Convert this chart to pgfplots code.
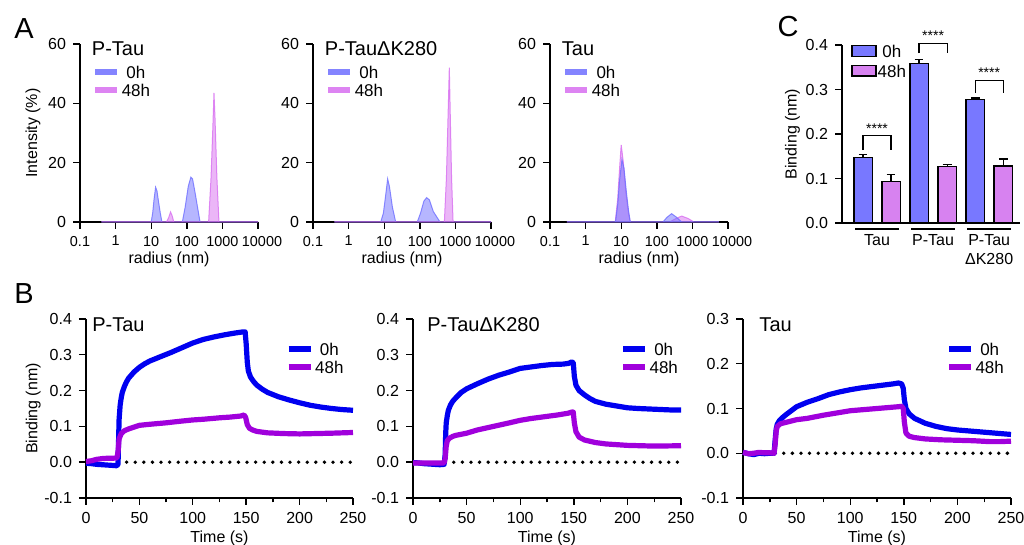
\documentclass[border=0pt]{standalone}
\usepackage{fontspec}
\setmainfont{Liberation Sans}
\usepackage{pgfplots}
\pgfplotsset{compat=1.18}

\definecolor{dlsblue}{RGB}{110,110,255}
\definecolor{dlspink}{RGB}{215,110,240}
\definecolor{barblue}{RGB}{120,120,255}
\definecolor{barpink}{RGB}{215,130,240}
\definecolor{kblue}{RGB}{0,0,240}
\definecolor{kpurp}{RGB}{160,0,220}

\tikzset{ttl/.style={anchor=west, inner sep=0pt, font=\fontsize{10}{10}\selectfont}}

\pgfplotsset{
  prism/.style={
    scale only axis,
    axis lines=left,
    axis line style={-, line width=0.7pt},
    every tick/.style={black, line width=0.7pt},
    tick align=outside,
    major tick length=3.5pt,
    minor tick length=2.2pt,
    tick label style={font=\fontsize{8}{9}\selectfont},
    label style={font=\fontsize{8}{9}\selectfont},
    /pgf/number format/assume math mode=true,
    clip=false,
  },
  thickleg/.style={legend image code/.code={\draw[##1, line width=3.4pt] (0pt,0pt) -- (11pt,0pt);}},
  dls/.style={prism, thickleg, width=89pt, height=89pt,
    xmin=0.1, xmax=10000, xminorticks=false,
    xtick={0.1,1,10,100,1000,10000},
    xticklabels={0.1,1,10,100,1000,\hphantom{0}10000},
    xticklabel style={font=\fontsize{7.2}{8}\selectfont},
    ymin=0, ymax=60, ytick={0,20,40,60},
    xlabel={radius (nm)}, xlabel style={yshift=4pt},
    legend style={at={(0.065,0.885)}, anchor=north west, draw=none, fill=none,
      font=\fontsize{8.5}{9}\selectfont, inner sep=0pt, row sep=1.8pt,
      nodes={inner sep=0.5pt, text height=6.2pt, text depth=0pt}},
  },
  kin/.style={prism, thickleg, width=134pt, height=89.5pt,
    xmin=0, xmax=250, xtick={0,50,...,250}, minor x tick num=1,
    xlabel={Time (s)}, xlabel style={yshift=3pt}, ymin=-0.1,
    legend style={anchor=north west, draw=none, fill=none,
      font=\fontsize{8.5}{9}\selectfont, inner sep=0pt, row sep=1.8pt,
      nodes={inner sep=0.5pt, text height=6.2pt, text depth=0pt},
      /tikz/every even column/.append style={column sep=2pt}},
  },
  fill0/.style={fill=dlsblue, fill opacity=0.5, draw=dlsblue, line width=0.5pt, draw opacity=0.8},
  fill48/.style={fill=dlspink, fill opacity=0.5, draw=dlspink, line width=0.5pt, draw opacity=0.8},
  line0/.style={kblue, line width=2.6pt, line join=round},
  line48/.style={kpurp, line width=2.6pt, line join=round},
  zero/.style={black, line width=1.9pt, line cap=round, dash pattern=on 0pt off 4.3pt},
}

\begin{document}
\begin{tikzpicture}
\useasboundingbox (0pt,0pt) rectangle (512pt,-272.5pt);

% ---------- A: DLS ----------
\begin{semilogxaxis}[dls, at={(40pt,-111pt)}, anchor=south west, ylabel={Intensity (\%)}, ylabel shift=-3pt]
  \addlegendimage{dlsblue, opacity=0.85}
  \addlegendimage{dlspink, opacity=0.85}
  \addplot[fill0, forget plot] coordinates {(0.4,0) (10,0) (11,3) (12,7.5) (13.3,11.7) (14.5,10.5) (16,7) (18,3) (20,0) (75,0) (90,5) (110,12) (130,15.1) (145,14.5) (170,10) (200,5) (235,0) (10000,0)} \closedcycle;
  \addplot[fill48, forget plot] coordinates {(0.4,0) (27,0) (31,1.5) (35,3.4) (39,2) (43,0) (410,0) (480,15) (540,32) (580,43.5) (620,35) (700,15) (800,0) (10000,0)} \closedcycle;
  \node[ttl] at (rel axis cs:0.065,0.975) {P-Tau};
  \legend{0h,48h}
\end{semilogxaxis}

\begin{semilogxaxis}[dls, at={(156.5pt,-111pt)}, anchor=south west]
  \addlegendimage{dlsblue, opacity=0.85}
  \addlegendimage{dlspink, opacity=0.85}
  \addplot[fill0, forget plot] coordinates {(0.4,0) (8,0) (9.5,3) (11,9) (12.5,14.5) (14,12) (17,5) (21,0) (85,0) (105,3) (130,7) (155,8.2) (185,7.5) (240,3.5) (370,0) (10000,0)} \closedcycle;
  \addplot[fill48, forget plot] coordinates {(0.4,0) (490,0) (560,15) (620,35) (675,52) (720,35) (780,15) (860,0) (10000,0)} \closedcycle;
  \node[ttl] at (rel axis cs:0.065,0.975) {P-TauΔK280};
  \legend{0h,48h}
\end{semilogxaxis}

\begin{semilogxaxis}[dls, at={(275pt,-111pt)}, anchor=south west]
  \addlegendimage{dlsblue, opacity=0.85}
  \addlegendimage{dlspink, opacity=0.85}
  \addplot[fill48, forget plot] coordinates {(0.3,0) (6.8,0) (8,8) (9,18) (10,26) (11.5,20) (13.5,10) (16,3) (18,0) (230,0) (350,1.2) (500,2) (750,1.2) (1100,0) (5500,0)} \closedcycle;
  \addplot[fill0, forget plot] coordinates {(0.3,0) (6.9,0) (8,6) (9,14) (10.5,21) (12,18) (14,10) (16,4) (18,0) (150,0) (190,1.5) (260,2.8) (340,1.8) (500,0) (5500,0)} \closedcycle;
  \node[ttl] at (rel axis cs:0.065,0.975) {Tau};
  \legend{0h,48h}
\end{semilogxaxis}

% ---------- C: bars ----------
\begin{axis}[prism, at={(421pt,-111.5pt)}, anchor=south west, width=89pt, height=89pt,
    ybar, bar width=0.65, xmin=0.25, xmax=6.6, xtick=\empty,
    ymin=0, ymax=0.4, ytick={0,0.1,0.2,0.3,0.4},
    yticklabels={0.0,0.1,0.2,0.3,0.4},
    ylabel={Binding (nm)}, ylabel shift=-4pt,
    legend image code/.code={\draw[#1, line width=0.6pt] (0pt,-2.6pt) rectangle (12pt,2.6pt);},
    legend style={at={(0.05,1.01)}, anchor=north west, draw=none, fill=none,
      font=\fontsize{8.5}{9}\selectfont, inner sep=0pt, row sep=2.5pt,
      nodes={inner sep=0.6pt, text height=6.2pt, text depth=0pt}}]
  \addplot[bar shift=0pt, fill=barblue, draw=black, line width=0.6pt,
    error bars/.cd, y dir=plus, y explicit,
    error bar style={black, line width=0.6pt},
    error mark options={rotate=90, mark size=2.2pt, line width=0.6pt}]
    coordinates {(1,0.148) +- (0,0.006) (3,0.358) +- (0,0.010) (5,0.278) +- (0,0.003)};
  \addplot[bar shift=0pt, fill=barpink, draw=black, line width=0.6pt,
    error bars/.cd, y dir=plus, y explicit,
    error bar style={black, line width=0.6pt},
    error mark options={rotate=90, mark size=2.2pt, line width=0.6pt}]
    coordinates {(2,0.094) +- (0,0.015) (4,0.127) +- (0,0.004) (6,0.128) +- (0,0.016)};
  \legend{0h,48h}
  % significance brackets
  \draw[line width=0.6pt] (axis cs:1,0.164) -- (axis cs:1,0.196) -- (axis cs:2,0.196) -- (axis cs:2,0.164);
  \node[anchor=south, inner sep=1pt, font=\fontsize{7}{7}\selectfont] at (axis cs:1.5,0.196) {****};
  \draw[line width=0.6pt] (axis cs:3,0.382) -- (axis cs:3,0.404) -- (axis cs:4,0.404) -- (axis cs:4,0.382);
  \node[anchor=south, inner sep=1pt, font=\fontsize{7}{7}\selectfont] at (axis cs:3.5,0.404) {****};
  \draw[line width=0.6pt] (axis cs:5,0.292) -- (axis cs:5,0.321) -- (axis cs:6,0.321) -- (axis cs:6,0.292);
  \node[anchor=south, inner sep=1pt, font=\fontsize{7}{7}\selectfont] at (axis cs:5.5,0.321) {****};
  % group labels
  \draw[line width=0.6pt] ([yshift=-3pt]axis cs:0.72,0) -- ([yshift=-3pt]axis cs:2.28,0);
  \draw[line width=0.6pt] ([yshift=-3pt]axis cs:2.72,0) -- ([yshift=-3pt]axis cs:4.28,0);
  \draw[line width=0.6pt] ([yshift=-3pt]axis cs:4.72,0) -- ([yshift=-3pt]axis cs:6.28,0);
  \node[anchor=north, inner sep=0pt, font=\fontsize{8}{9.5}\selectfont] at ([yshift=-5.5pt]axis cs:1.5,0) {Tau};
  \node[anchor=north, inner sep=0pt, font=\fontsize{8}{9.5}\selectfont] at ([yshift=-5.5pt]axis cs:3.5,0) {P-Tau};
  \node[anchor=north, inner sep=0pt, align=center, font=\fontsize{8}{9.5}\selectfont] at ([yshift=-5.5pt]axis cs:5.5,0) {P-Tau\\ΔK280};
\end{axis}

% ---------- B: kinetics ----------
\begin{axis}[kin, at={(43pt,-249pt)}, anchor=south west, width=133.5pt,
    ymax=0.4, ytick={-0.1,0,0.1,0.2,0.3,0.4}, yticklabels={-0.1,0.0,0.1,0.2,0.3,0.4},
    ylabel={Binding (nm)}, ylabel shift=-5pt, legend style={at={(0.745,0.875)}}]
  \addplot[zero, forget plot] coordinates {(30,0) (250,0)};
  \addplot[line0] coordinates {(0,-0.003) (5,-0.004) (10,-0.006) (15,-0.007) (20,-0.008) (25,-0.009) (29,-0.01) (30,-0.005) (30.5,0.06) (31,0.12) (32,0.16) (33,0.18) (34,0.195) (36,0.212) (38,0.225) (40,0.235) (45,0.252) (50,0.265) (55,0.275) (60,0.283) (70,0.295) (80,0.307) (90,0.32) (100,0.333) (110,0.343) (120,0.35) (130,0.356) (140,0.361) (147,0.364) (149,0.364) (150,0.33) (151,0.28) (152,0.255) (154,0.238) (157,0.225) (160,0.215) (165,0.204) (170,0.195) (180,0.183) (190,0.174) (200,0.166) (210,0.159) (220,0.154) (230,0.15) (240,0.147) (250,0.145)};
  \addplot[line48] coordinates {(0,0.002) (5,0.004) (10,0.008) (15,0.01) (20,0.011) (25,0.011) (29,0.012) (30,0.03) (31,0.065) (33,0.08) (36,0.088) (40,0.093) (45,0.098) (50,0.103) (60,0.106) (75,0.11) (90,0.115) (100,0.118) (110,0.12) (125,0.124) (135,0.126) (145,0.129) (148,0.132) (149.5,0.125) (151,0.105) (153,0.095) (156,0.09) (160,0.086) (170,0.082) (185,0.08) (200,0.079) (215,0.08) (230,0.081) (240,0.082) (250,0.083)};
  \node[ttl] at (rel axis cs:0.022,0.966) {P-Tau};
  \legend{0h,48h}
\end{axis}

\begin{axis}[kin, at={(206.5pt,-249pt)}, anchor=south west,
    ymax=0.4, ytick={-0.1,0,0.1,0.2,0.3,0.4}, yticklabels={-0.1,0.0,0.1,0.2,0.3,0.4},
    legend style={at={(0.77,0.875)}}]
  \addplot[zero, forget plot] coordinates {(30,0) (250,0)};
  \addplot[line0] coordinates {(0,-0.001) (5,-0.002) (10,-0.004) (15,-0.005) (20,-0.006) (25,-0.007) (29,-0.006) (30,0.02) (30.5,0.08) (31,0.11) (32,0.13) (33,0.145) (35,0.16) (37,0.17) (40,0.18) (45,0.195) (50,0.205) (60,0.219) (70,0.232) (80,0.243) (90,0.252) (100,0.262) (110,0.266) (120,0.27) (130,0.273) (140,0.274) (145,0.276) (148,0.28) (149.5,0.278) (150.5,0.24) (152,0.215) (155,0.2) (160,0.188) (165,0.178) (170,0.17) (180,0.162) (190,0.157) (200,0.152) (210,0.15) (225,0.148) (240,0.146) (250,0.146)};
  \addplot[line48] coordinates {(0,-0.002) (10,-0.002) (20,-0.002) (29,-0.002) (30,0.01) (31,0.045) (32,0.06) (34,0.067) (37,0.072) (40,0.075) (50,0.081) (60,0.09) (75,0.1) (90,0.11) (100,0.117) (110,0.122) (125,0.128) (135,0.132) (145,0.137) (148,0.14) (149.5,0.14) (150.5,0.11) (152,0.085) (155,0.07) (160,0.062) (170,0.055) (180,0.051) (200,0.047) (225,0.045) (250,0.046)};
  \node[ttl] at (rel axis cs:0.052,0.966) {P-TauΔK280};
  \legend{0h,48h}
\end{axis}

\begin{axis}[kin, at={(371.5pt,-249pt)}, anchor=south west,
    ymax=0.3, ytick={-0.1,0,0.1,0.2,0.3}, yticklabels={-0.1,0.0,0.1,0.2,0.3},
    legend style={at={(0.755,0.875)}}]
  \addplot[zero, forget plot] coordinates {(30,0) (250,0)};
  \addplot[line0] coordinates {(0,0.002) (5,-0.001) (10,-0.003) (15,0.0) (20,-0.001) (25,0.0) (29,0.0) (30,0.03) (31,0.055) (32,0.065) (34,0.073) (37,0.08) (40,0.086) (45,0.095) (50,0.104) (60,0.114) (70,0.122) (80,0.131) (90,0.137) (100,0.142) (110,0.146) (120,0.149) (130,0.152) (140,0.155) (145,0.157) (148,0.155) (149.5,0.145) (150.5,0.12) (152,0.1) (155,0.088) (160,0.078) (170,0.067) (180,0.06) (190,0.055) (200,0.052) (210,0.05) (225,0.047) (240,0.044) (250,0.042)};
  \addplot[line48] coordinates {(0,0.002) (5,-0.001) (10,0.0) (15,0.002) (20,0.001) (25,0.001) (29,0.0) (30,0.02) (31,0.05) (32,0.06) (35,0.066) (40,0.069) (50,0.075) (60,0.078) (75,0.085) (90,0.091) (100,0.095) (110,0.097) (125,0.1) (135,0.102) (145,0.104) (148,0.105) (149.5,0.1) (150.5,0.07) (152,0.045) (155,0.038) (160,0.035) (170,0.032) (185,0.03) (200,0.029) (215,0.028) (230,0.026) (240,0.026) (250,0.027)};
  \node[ttl] at (rel axis cs:0.06,0.966) {Tau};
  \legend{0h,48h}
\end{axis}

% panel letters
\node[font=\fontsize{14.5}{15}\selectfont] at (12pt,-14.5pt) {A};
\node[font=\fontsize{14.5}{15}\selectfont] at (12pt,-147pt) {B};
\node[font=\fontsize{14.5}{15}\selectfont] at (394pt,-13.5pt) {C};
\end{tikzpicture}
\end{document}
